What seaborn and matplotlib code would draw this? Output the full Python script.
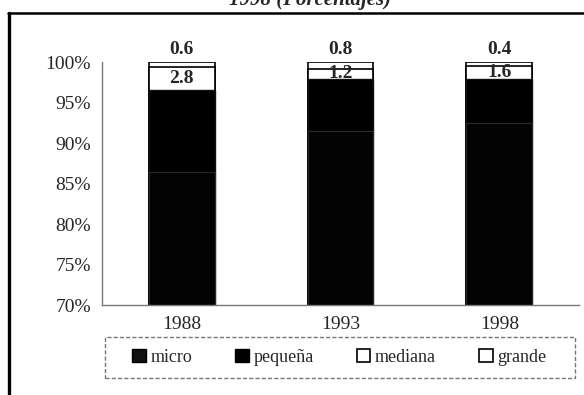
import matplotlib
matplotlib.use("Agg")
import matplotlib.pyplot as plt
import seaborn as sns
import numpy as np
import pandas as pd
from matplotlib.lines import Line2D
from matplotlib.patches import Patch, Rectangle
from matplotlib.ticker import PercentFormatter, FixedLocator

# ---- data ----
years = ["1988", "1993", "1998"]
micro = [86.4, 91.5, 92.5]
pequena = [10.2, 6.5, 5.5]
mediana = [2.8, 1.2, 1.6]
grande = [0.6, 0.8, 0.4]
series_names = ["micro", "pequeña", "mediana", "grande"]
y_ticks = [70, 75, 80, 85, 90, 95, 100]

sns.set_style("white")
plt.rcParams["font.family"] = ["Liberation Serif", "DejaVu Serif"]

fig = plt.figure(figsize=(5.84, 3.95), dpi=100)
ax = fig.add_axes([0.1747, 0.2278, 0.8167, 0.6140])

df = pd.DataFrame({"year": years, "micro": micro, "pequena": pequena,
                   "mediana": mediana, "grande": grande})
df["c_micro"] = df["micro"]
df["c_peq"] = df["c_micro"] + df["pequena"]
df["c_med"] = df["c_peq"] + df["mediana"]
df["c_gra"] = df["c_med"] + df["grande"]

bw = 0.415
layers = [("c_gra", "white", "black", 1.2), ("c_med", "white", "black", 1.2),
          ("c_peq", "#000000", "#111111", 1.0), ("c_micro", "#030303", "#2a2a2a", 0.8)]
for col, fc, ec, lw in layers:
    sns.barplot(data=df, x="year", y=col, color=fc, saturation=1, width=bw,
                edgecolor=ec, linewidth=lw, ax=ax, order=years)

ax.set_ylim(70, 100)
ax.set_xlim(-0.5, 2.5)
ax.set_xlabel("")
ax.set_ylabel("")
ax.yaxis.set_major_locator(FixedLocator(y_ticks))
ax.yaxis.set_major_formatter(PercentFormatter(100, decimals=0))
ax.set_xticks([0, 1, 2])
ax.set_xticklabels(years)
ax.set_xticks([-0.5, 0.5, 1.5, 2.5], minor=True)
ax.tick_params(axis="x", which="major", length=0, pad=8, labelsize=14)
ax.tick_params(axis="x", which="minor", length=4, direction="out", color="#777777", width=1)
ax.tick_params(axis="y", which="major", length=4, direction="out", color="#777777",
               width=1, pad=4, labelsize=14)

for s in ["top", "right"]:
    ax.spines[s].set_visible(False)
for s in ["left", "bottom"]:
    ax.spines[s].set_color("#777777")
    ax.spines[s].set_linewidth(1.0)

# value labels
for i in range(len(years)):
    ax.annotate(f"{grande[i]:.1f}", (i, df["c_gra"][i]), xytext=(0, 3),
                textcoords="offset points", ha="center", va="bottom",
                fontsize=14, fontweight="bold")
    ymid = df["c_peq"][i] + mediana[i] / 2
    ax.text(i, ymid, f"{mediana[i]:.1f}", ha="center", va="center",
            fontsize=14, fontweight="bold")

# legend (frame drawn separately as a dashed box)
handles = [Patch(facecolor="#111111", edgecolor="black"),
           Patch(facecolor="#000000", edgecolor="black"),
           Patch(facecolor="white", edgecolor="black", linewidth=1.2),
           Patch(facecolor="white", edgecolor="black", linewidth=1.2)]
leg = fig.legend(handles, series_names, ncol=4, loc="center",
                 bbox_to_anchor=(0.581, 0.095), frameon=False, fontsize=13,
                 handlelength=0.75, handleheight=0.75, handletextpad=0.25,
                 columnspacing=2.4, borderpad=0.3, borderaxespad=0)
box = Rectangle((105 / 584, 1 - 378 / 395), 470 / 584, 41 / 395,
                transform=fig.transFigure, fill=False, edgecolor="#777777",
                linewidth=1.0, linestyle=(0, (3, 1.5)))
fig.add_artist(box)

# outer frame lines and cut-off title
fig.add_artist(Line2D([9 / 584, 9 / 584], [0, 1 - 13 / 395], color="black", lw=2.4,
                      transform=fig.transFigure))
fig.add_artist(Line2D([8 / 584, 1], [1 - 13 / 395, 1 - 13 / 395], color="black", lw=1.8,
                      transform=fig.transFigure))
fig.text(310 / 584, 1 - 5 / 395, "1998 (Porcentajes)", ha="center", va="baseline",
         fontsize=15, fontstyle="italic", fontweight="bold")

fig.savefig("out.png", dpi=100)
